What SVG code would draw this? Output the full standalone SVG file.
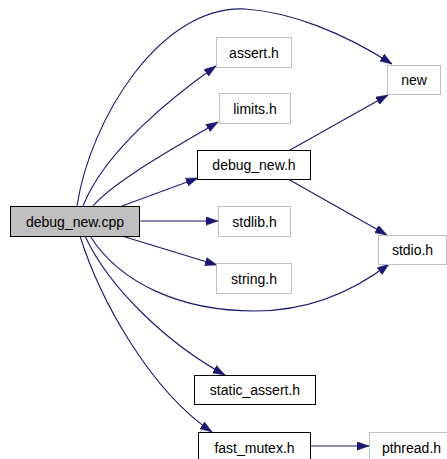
<svg xmlns="http://www.w3.org/2000/svg" width="447" height="459" viewBox="0 0 447 459">
<style>
.n rect{fill:#ffffff;stroke:#000000;stroke-width:1}
.n.g rect{stroke:#bfbfbf}
.n.root rect{fill:#bfbfbf;stroke:#000000}
.n text{font-family:"Liberation Sans",Arial,sans-serif;font-size:14px;fill:#000000;text-anchor:middle}
.e path{fill:none;stroke:#191970;stroke-width:1.1}
</style>
<defs>
<marker id="ah" markerWidth="13" markerHeight="10" refX="12" refY="4.5" orient="auto" markerUnits="userSpaceOnUse">
<path d="M0,0.3 L12,4.5 L0,8.7 z" fill="#191970" stroke="#191970" stroke-width="0.5"/>
</marker>
</defs>
<rect width="447" height="459" fill="#ffffff"/>
<g id="connectors" class="e">
<path marker-end="url(#ah)" d="M77,206 C90,120 160,5 245,9 C290,12 342,32 392,64"/>
<path marker-end="url(#ah)" d="M83,206 C105,150 175,95 216,66"/>
<path marker-end="url(#ah)" d="M93,206 C115,180 180,145 218,122"/>
<path marker-end="url(#ah)" d="M122,206 L198,178"/>
<path marker-end="url(#ah)" d="M139,221 L218,221"/>
<path marker-end="url(#ah)" d="M122,236 L217,265"/>
<path marker-end="url(#ah)" d="M90,236 C120,283 180,311 255,311 C310,311 355,290 389,264"/>
<path marker-end="url(#ah)" d="M85,236 C110,290 170,345 225,375"/>
<path marker-end="url(#ah)" d="M80,236 C100,300 150,390 212,432"/>
<path marker-end="url(#ah)" d="M290,150 L388,95"/>
<path marker-end="url(#ah)" d="M288,179 L387,235"/>
<path marker-end="url(#ah)" d="M311,446 L369,446"/>
</g>
<g id="debug_new_cpp" class="n root"><rect x="10.5" y="206.5" width="129" height="30"/><text x="75" y="226.5">debug_new.cpp</text></g>
<g id="assert_h" class="n g"><rect x="216.5" y="37.5" width="75" height="30"/><text x="254" y="57.5">assert.h</text></g>
<g id="limits_h" class="n g"><rect x="219.5" y="93.5" width="71" height="30"/><text x="255" y="113.5">limits.h</text></g>
<g id="debug_new_h" class="n"><rect x="197.5" y="150.5" width="113" height="29"/><text x="254" y="170">debug_new.h</text></g>
<g id="stdlib_h" class="n g"><rect x="218.5" y="206.5" width="72" height="30"/><text x="254.5" y="226.5">stdlib.h</text></g>
<g id="string_h" class="n g"><rect x="216.5" y="263.5" width="75" height="30"/><text x="254" y="283.5">string.h</text></g>
<g id="new" class="n g"><rect x="387.5" y="65.5" width="53" height="29"/><text x="414" y="85">new</text></g>
<g id="stdio_h" class="n g"><rect x="378.5" y="235.5" width="68" height="29"/><text x="412.5" y="255">stdio.h</text></g>
<g id="static_assert_h" class="n"><rect x="194.5" y="375.5" width="121" height="29"/><text x="255" y="395">static_assert.h</text></g>
<g id="fast_mutex_h" class="n"><rect x="198.5" y="432.5" width="112" height="30"/><text x="254.5" y="452.5">fast_mutex.h</text></g>
<g id="pthread_h" class="n g"><rect x="369.5" y="432.5" width="84" height="30"/><text x="411.5" y="452.5">pthread.h</text></g>
</svg>
